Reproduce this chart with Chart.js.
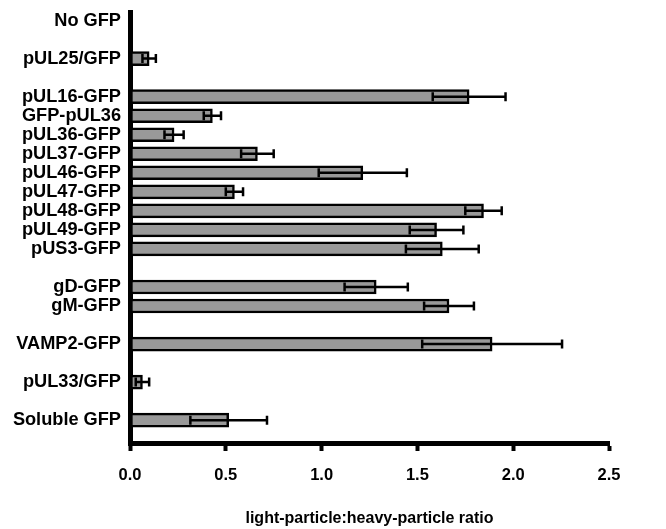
<!DOCTYPE html>
<html>
<head>
<meta charset="utf-8">
<script src="https://cdn.jsdelivr.net/npm/chart.js@4.4.1/dist/chart.umd.min.js"></script>
<style>
  html, body { margin: 0; padding: 0; background: #fff; }
  #wrap { width: 666px; height: 529px; }
</style>
</head>
<body>
<div id="wrap"><canvas id="myChart" width="666" height="529"></canvas></div>
<script>
// constructs, top to bottom
var categories = [
    'No GFP',
    'pUL25/GFP',
    'pUL16-GFP', 'GFP-pUL36', 'pUL36-GFP', 'pUL37-GFP', 'pUL46-GFP',
    'pUL47-GFP', 'pUL48-GFP', 'pUL49-GFP', 'pUS3-GFP',
    'gD-GFP', 'gM-GFP',
    'VAMP2-GFP',
    'pUL33/GFP',
    'Soluble GFP'
];
// how many constructs sit in each block (blocks are separated by an empty row)
var groupSizes = [1, 1, 9, 2, 1, 1, 1];
// light-particle : heavy-particle ratio (mean) and error
var ratios = [0, 0.10, 1.77, 0.43, 0.23, 0.665, 1.215, 0.545, 1.845, 1.60, 1.63, 1.285, 1.665, 1.89, 0.065, 0.515];
var errors = [0, 0.035, 0.19, 0.045, 0.05, 0.085, 0.23, 0.045, 0.095, 0.14, 0.19, 0.165, 0.13, 0.365, 0.035, 0.2];
var xTicks = [0, 0.5, 1.0, 1.5, 2.0, 2.5];

// row index of each construct, one blank row between blocks
var rows = [];
var r = 0;
groupSizes.forEach(function (n) {
    for (var k = 0; k < n; k++) { rows.push(r); r++; }
    r++;
});
var lastRow = rows[rows.length - 1];

var points = categories.map(function (c, i) {
    return { x: ratios[i], y: rows[i] };
});

var fontFamily = '"Liberation Sans", Arial, sans-serif';

// error bars: line from mean-err to mean+err with a cap at both ends
var errorBars = {
    id: 'errorBars',
    afterDatasetsDraw: function (chart) {
        var ctx = chart.ctx;
        var xs = chart.scales.x;
        var ys = chart.scales.y;
        ctx.save();
        ctx.strokeStyle = '#000';
        ctx.lineWidth = 2.5;
        for (var i = 0; i < categories.length; i++) {
            if (!errors[i]) continue;
            var y = ys.getPixelForValue(rows[i]);
            var lo = xs.getPixelForValue(ratios[i] - errors[i]);
            var hi = xs.getPixelForValue(ratios[i] + errors[i]);
            ctx.beginPath();
            ctx.moveTo(lo, y);
            ctx.lineTo(hi, y);
            ctx.moveTo(lo, y - 4.5);
            ctx.lineTo(lo, y + 4.5);
            ctx.moveTo(hi, y - 4.5);
            ctx.lineTo(hi, y + 4.5);
            ctx.stroke();
        }
        ctx.restore();
    }
};

var myChart = new Chart(document.getElementById('myChart').getContext('2d'), {
    type: 'bar',
    data: {
        datasets: [{
            data: points,
            backgroundColor: '#999999',
            borderColor: '#000000',
            borderWidth: 2.5,
            borderSkipped: false,
            barThickness: 14
        }]
    },
    options: {
        indexAxis: 'y',
        responsive: false,
        animation: false,
        layout: { padding: { top: 12, right: 57, left: 0, bottom: 0 } },
        plugins: {
            legend: { display: false },
            tooltip: { enabled: false }
        },
        scales: {
            x: {
                type: 'linear',
                min: 0,
                max: 2.5,
                afterBuildTicks: function (scale) {
                    scale.ticks = xTicks.map(function (v) { return { value: v }; });
                },
                ticks: {
                    color: '#000',
                    font: { family: fontFamily, weight: 'bold', size: 16.5 },
                    padding: 15,
                    callback: function (v) { return Number(v).toFixed(1); }
                },
                grid: {
                    display: true,
                    drawOnChartArea: false,
                    drawTicks: true,
                    tickLength: 8,
                    tickWidth: 4,
                    tickColor: '#000'
                },
                border: { display: true, color: '#000', width: 5 },
                title: {
                    display: true,
                    text: 'light-particle:heavy-particle ratio',
                    color: '#000',
                    font: { family: fontFamily, weight: 'bold', size: 16 },
                    padding: { top: 8, bottom: 1 }
                }
            },
            y: {
                type: 'linear',
                reverse: true,
                offset: false,
                bounds: 'data',
                min: -0.45,
                max: lastRow + 1.2,
                afterBuildTicks: function (scale) {
                    scale.ticks = rows.map(function (v) { return { value: v }; });
                },
                afterFit: function (scale) {
                    scale.width = 130;
                    scale.paddingTop = 0;
                    scale.paddingBottom = 0;
                },
                ticks: {
                    color: '#000',
                    font: { family: fontFamily, weight: 'bold', size: 18.2 },
                    padding: 9,
                    autoSkip: false,
                    callback: function (v) { return categories[rows.indexOf(v)]; }
                },
                grid: { display: false, drawTicks: false, offset: false },
                border: { display: true, color: '#000', width: 5 }
            }
        }
    },
    plugins: [errorBars]
});
</script>
</body>
</html>
